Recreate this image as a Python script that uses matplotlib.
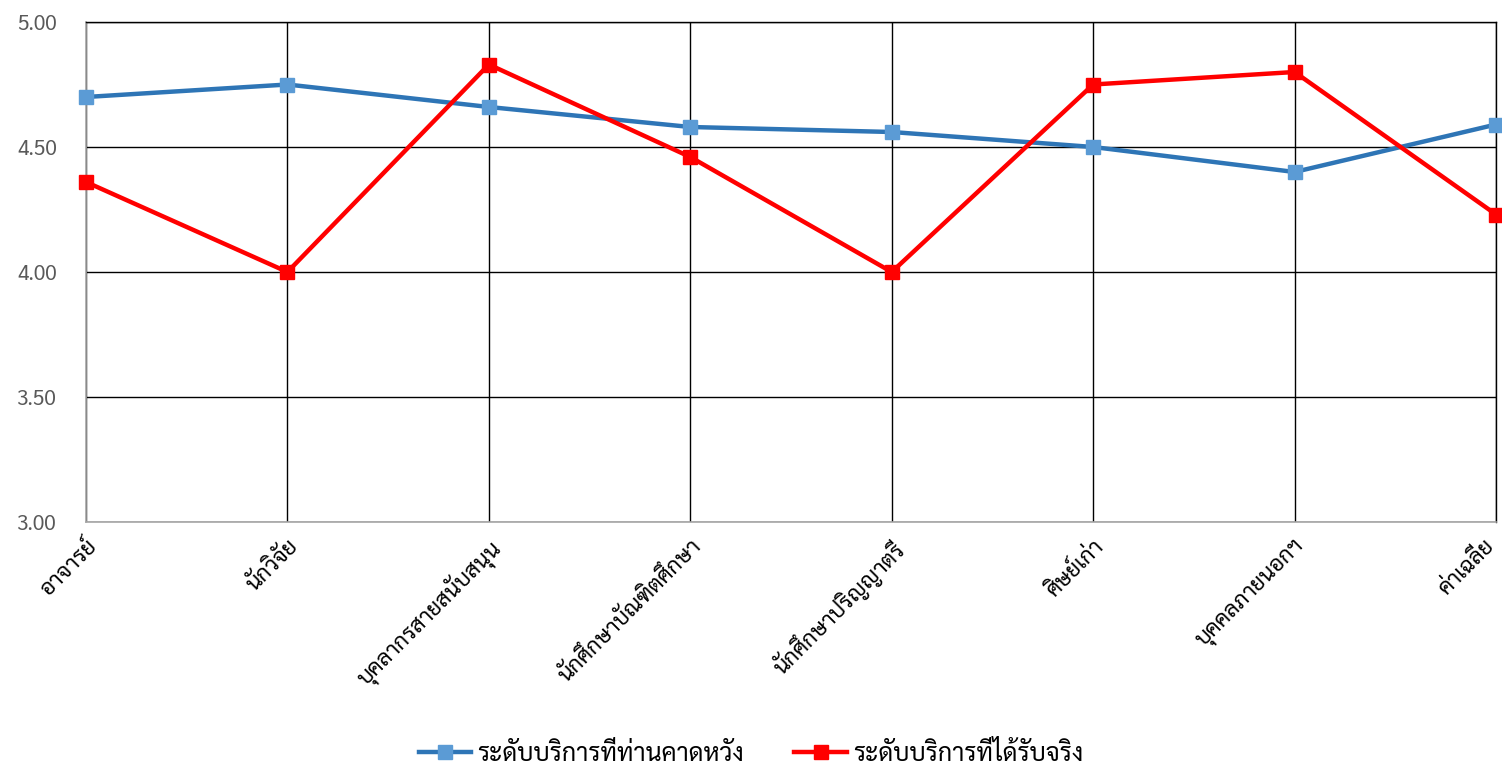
import matplotlib
matplotlib.use("Agg")
from matplotlib import pyplot as plt
from matplotlib.transforms import ScaledTranslation

# data
categories = ["อาจารย์", "นักวิจัย", "บุคลากรสายสนับสนุน", "นักศึกษาบัณฑิตศึกษา",
              "นักศึกษาปริญญาตรี", "ศิษย์เก่า", "บุคคลภายนอกฯ", "ค่าเฉลี่ย"]
expected = [4.70, 4.75, 4.66, 4.58, 4.56, 4.50, 4.40, 4.59]
received = [4.36, 4.00, 4.83, 4.46, 4.00, 4.75, 4.80, 4.23]
series_names = ["ระดับบริการที่ท่านคาดหวัง", "ระดับบริการที่ได้รับจริง"]
yticks = [3.00, 3.50, 4.00, 4.50, 5.00]

plt.rcParams['font.family'] = ['Sarabun', 'DejaVu Sans']

fig = plt.figure(figsize=(15.02, 7.68), dpi=100)
ax = fig.add_axes([86/1502, 1-522/768, (1496-86)/1502, 500/768])

x = list(range(len(categories)))
ax.plot(x, expected, color='#2E75B6', lw=3.2, marker='s', ms=10,
        mfc='#5B9BD5', mec='#5B9BD5', label=series_names[0], clip_on=False, zorder=3)
ax.plot(x, received, color='#FF0000', lw=3.2, marker='s', ms=10,
        mfc='#FF0000', mec='#FF0000', label=series_names[1], clip_on=False, zorder=4)

ax.set_xlim(0, len(categories) - 1)
ax.set_ylim(3, 5)
ax.set_yticks(yticks)
ax.set_yticklabels([f"{v:.2f}" for v in yticks], fontsize=15, color='#595959')
ax.set_xticks(x)
ax.set_xticklabels(categories, fontsize=16, rotation=45, ha='right', va='top',
                   rotation_mode='anchor')
ax.tick_params(axis='y', length=0, pad=21)
ax.tick_params(axis='x', length=0, pad=10)

# the last label sits at the right edge, nudge it in a bit so it is not cut
last = ax.xaxis.get_major_ticks()[-1].label1
last.set_transform(last.get_transform() + ScaledTranslation(-9/72, 0, fig.dpi_scale_trans))

ax.grid(True, color='black', lw=1)
ax.set_axisbelow(True)
for s in ['left', 'bottom']:
    ax.spines[s].set_color('#A6A6A6')
    ax.spines[s].set_linewidth(1.2)
for s in ['top', 'right']:
    ax.spines[s].set_color('black')
    ax.spines[s].set_linewidth(1)

fig.legend(loc='lower center', bbox_to_anchor=(0.5, -0.028), ncol=2, frameon=False,
           fontsize=18, handlelength=2.1, columnspacing=2.0, handletextpad=0.25)

fig.savefig("out.png")
